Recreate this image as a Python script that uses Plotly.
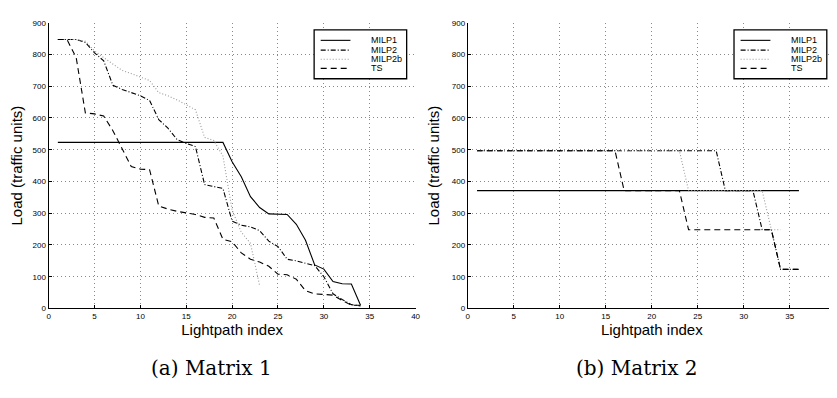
import plotly.graph_objects as go

# ---------------- data ----------------
series_names = ["MILP1", "MILP2", "MILP2b", "TS"]

# Matrix 1
m1_milp1 = [523, 523, 523, 523, 523, 523, 523, 523, 523, 523, 523, 523, 523, 523, 523, 523, 523, 523, 523,
            462, 415, 352, 318, 298, 297, 296, 265, 215, 137, 124, 85, 78, 77, 10]
m1_milp2 = [847, 847, 847, 838, 805, 780, 703, 690, 680, 670, 655, 595, 568, 532, 520, 510, 390, 384, 378,
            275, 262, 257, 245, 212, 195, 155, 150, 142, 135, 100, 46, 28, 12, 8]
m1_milp2b = [847, 847, 847, 842, 811, 790, 770, 750, 740, 729, 718, 680, 670, 657, 641, 626, 539, 529, 480,
             310, 240, 205, 72]
m1_ts = [847, 847, 790, 616, 613, 606, 560, 503, 447, 439, 437, 323, 313, 306, 302, 296, 287, 285, 218,
         210, 175, 155, 146, 133, 108, 106, 92, 56, 46, 44, 42, 25, 10, 10]

# Matrix 2
m2_milp1 = [371, 371, 371, 371, 371, 371, 371, 371, 371, 371, 371, 371, 371, 371, 371, 371, 371, 371,
            371, 371, 371, 371, 371, 371, 371, 371, 371, 371, 371, 371, 371, 371, 371, 371, 371, 371]
m2_milp2 = [497, 497, 497, 497, 497, 497, 497, 497, 497, 497, 497, 497, 497, 497, 497, 497, 497, 497,
            497, 497, 497, 497, 497, 497, 497, 497, 497, 371, 371, 371, 371, 248, 248, 123, 123, 123]
m2_milp2b = [497, 497, 497, 497, 497, 497, 497, 497, 497, 497, 497, 497, 497, 497, 497, 497, 497, 497,
             497, 497, 497, 497, 497, 371, 371, 371, 371, 371, 371, 371, 371, 371, 248, 248]
m2_ts = [497, 497, 497, 497, 497, 497, 497, 497, 497, 497, 497, 497, 497, 497, 497, 497, 371, 371,
         371, 371, 371, 371, 371, 248, 248, 248, 248, 248, 248, 248, 248, 248, 248, 123, 123, 123]

x_ticks = [0, 5, 10, 15, 20, 25, 30, 35, 40]
y_ticks = [0, 100, 200, 300, 400, 500, 600, 700, 800, 900]
captions = ["(a) Matrix 1", "(b) Matrix 2"]
x_title = "Lightpath index"
y_title = "Load (traffic units)"

# ---------------- styles ----------------
styles = {
    "MILP1": dict(color="black", dash="solid", width=1.1),
    "MILP2": dict(color="black", dash="5px,2px,1px,2px", width=1.1),
    "MILP2b": dict(color="#9a9a9a", dash="1px,2px", width=1.1),
    "TS": dict(color="black", dash="6px,4px", width=1.1),
}

SANS = "Liberation Sans"

fig = go.Figure()

panels = [
    ("x", "y", [m1_milp1, m1_milp2, m1_milp2b, m1_ts]),
    ("x2", "y2", [m2_milp1, m2_milp2, m2_milp2b, m2_ts]),
]
for xa, ya, data in panels:
    for name, vals in zip(series_names, data):
        fig.add_trace(go.Scatter(
            x=list(range(1, len(vals) + 1)), y=vals, mode="lines", name=name,
            line=styles[name], xaxis=xa, yaxis=ya, showlegend=False,
            hoverinfo="skip"))

W, H = 837, 398
dom_y = [(H - 303.3) / H, (H - 11) / H]
dom_x1 = [39 / W, 409 / W]
dom_x2 = [461.7 / W, 832.7 / W]

tickfont = dict(family=SANS, size=8, color="black")
titlefont = dict(family=SANS, size=15, color="black")

def xaxis(domain, anchor):
    return dict(domain=domain, anchor=anchor, range=[0, 40], tickvals=x_ticks,
                showgrid=True, gridcolor="#8a8a8a", griddash="1px,3px", gridwidth=1,
                zeroline=False, showline=True, linecolor="black", linewidth=1.2,
                ticks="inside", ticklen=3, tickcolor="black", tickfont=tickfont,
                title=dict(text=x_title, font=titlefont, standoff=3), mirror=False)

def yaxis(anchor):
    return dict(domain=dom_y, anchor=anchor, range=[0, 900], tickvals=y_ticks,
                showgrid=True, gridcolor="#8a8a8a", griddash="1px,3px", gridwidth=1,
                zeroline=False, showline=True, linecolor="black", linewidth=1.2,
                ticks="inside", ticklen=3, tickcolor="black", tickfont=tickfont,
                title=dict(text=y_title, font=titlefont, standoff=8), mirror=False)

shapes = []
annotations = []
# legends (drawn per panel in axis-domain coordinates)
leg_rows = [0.9384, 0.9042, 0.8724, 0.8403]
for xa, ya in [("x", "y"), ("x2", "y2")]:
    xr, yr = f"{xa} domain", f"{ya} domain"
    shapes.append(dict(type="rect", xref=xr, yref=yr, x0=0.7235, x1=0.9757, y0=0.804, y1=0.975,
                       line=dict(color="black", width=1.3), fillcolor="white", layer="above"))
    for name, yy in zip(series_names, leg_rows):
        st = styles[name]
        shapes.append(dict(type="line", xref=xr, yref=yr, x0=0.7414, x1=0.8224, y0=yy, y1=yy,
                           line=dict(color=st["color"], dash=st["dash"], width=1.1), layer="above"))
        annotations.append(dict(xref=xr, yref=yr, x=0.8765, y=yy, text=name, showarrow=False,
                                xanchor="left", yanchor="middle", borderpad=0,
                                font=dict(family=SANS, size=9, color="black")))

for cap, cx in zip(captions, [203 / W, 632 / W]):
    annotations.append(dict(xref="paper", yref="paper", x=cx, y=(H - 364) / H, text=cap,
                            showarrow=False, xanchor="center", yanchor="middle",
                            font=dict(family="DejaVu Serif", size=20, color="black")))

fig.update_layout(
    width=W, height=H, margin=dict(l=0, r=0, t=0, b=0),
    paper_bgcolor="white", plot_bgcolor="white",
    font=dict(family=SANS),
    xaxis=xaxis(dom_x1, "y"), yaxis=yaxis("x"),
    xaxis2=xaxis(dom_x2, "y2"), yaxis2=yaxis("x2"),
    shapes=shapes, annotations=annotations, showlegend=False,
)

fig.write_html("out.html")
